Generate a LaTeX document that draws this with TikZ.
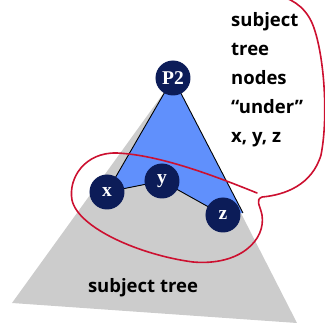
\documentclass[tikz,border=0pt]{standalone}
\usepackage{fontspec}
\setmainfont{Liberation Serif}
\setsansfont{Open Sans}
\usetikzlibrary{positioning}

\definecolor{treegray}{RGB}{204,204,204}
\definecolor{partblue}{RGB}{96,144,252}
\definecolor{nodenavy}{RGB}{12,28,88}
\definecolor{inkred}{RGB}{204,16,48}

\begin{document}
\begin{tikzpicture}[
  x=1pt, y=-1pt,
  tnode/.style={circle, fill=nodenavy, minimum size=35pt, inner sep=0pt, text=white, font=\fontsize{19.5}{19.5}\selectfont\bfseries},
  edge/.style={black, line width=0.9pt},
  note/.style={font=\fontsize{18.5}{29}\selectfont\sffamily\bfseries, align=left, inner sep=0pt},
  loop/.style={inkred, line width=1.6pt, line join=round, line cap=round},
]
\useasboundingbox (0,0) rectangle (325,324);

% whole subject tree
\coordinate (apex) at (173,80);
\coordinate (bl) at (12,303);
\coordinate (br) at (297,323);
\fill[treegray] (apex) -- (bl) -- (br) -- cycle;

% node positions
\coordinate (p2) at (173,78);
\coordinate (x) at (107,192);
\coordinate (y) at (162,181);
\coordinate (z) at (223,215);
\coordinate (zr) at (243,213);

% part of the tree under P2
\fill[partblue] (p2) -- (x) -- (y) -- (z) -- (zr) -- cycle;
\draw[edge] (p2) -- (x) -- (y) -- (z);
\draw[edge] (p2) -- (zr);
\foreach \n/\t in {p2/P2, x/x, y/y, z/z}
  \node[tnode] (\n-node) at (\n) {\t};

% labels
\node[note, anchor=north west] (label) at (231,12.5) {subject\\tree\\nodes\\``under''\\x, y, z};
\node[note, anchor=base] (treelabel) at (143,293) {subject tree};

% red loop
\draw[loop] (257,193) .. controls (215,176) and (160,155) .. (117,153)
  .. controls (85,152) and (68,178) .. (72,200)
  .. controls (78,228) and (140,255) .. (193,262)
  .. controls (240,266) and (266,240) .. (262,215)
  .. controls (260,205) and (255,200) .. (262,197)
  .. controls (285,195) and (312,185) .. (321,155)
  .. controls (328,120) and (325,60) .. (314,28)
  .. controls (308,10) and (295,0) .. (280,-4);
\end{tikzpicture}
\end{document}
